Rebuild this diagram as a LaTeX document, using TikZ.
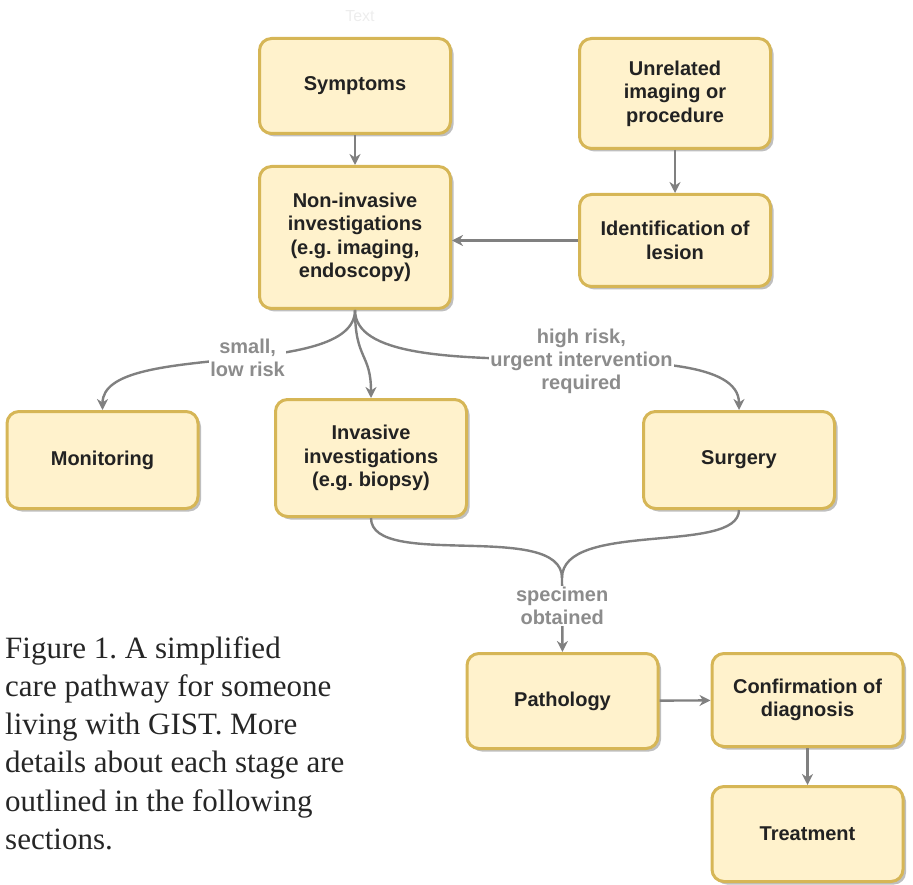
\documentclass[tikz,border=0pt]{standalone}
\usepackage{fontspec}
\setmainfont{Liberation Serif}
\newfontfamily\flowfont{Liberation Sans}
\usetikzlibrary{
  arrows.meta,
  shadows
}
\definecolor{stagefill}{RGB}{255,242,204}
\definecolor{stageline}{RGB}{214,182,86}
\definecolor{linkgray}{RGB}{128,128,128}
\definecolor{labelgray}{RGB}{140,140,140}
\definecolor{stagetext}{RGB}{34,34,34}
\frenchspacing

\tikzset{
  stage/.style={draw=stageline, fill=stagefill, line width=3pt, rounded corners=12pt,
    minimum width=191pt, align=center, text=stagetext,
    font=\flowfont\bfseries\fontsize{20}{23.5}\selectfont,
    drop shadow={shadow xshift=3pt, shadow yshift=-3pt, fill=black, opacity=0.25}},
  link/.style={draw=linkgray, line width=2.4pt, -{Stealth[length=11pt, width=11pt, inset=3.5pt]}},
  pipe/.style={draw=linkgray, line width=2.4pt},
  edgelabel/.style={fill=white, text=labelgray, align=center, inner sep=1pt,
    font=\flowfont\bfseries\fontsize{20}{23}\selectfont}
}

\begin{document}
\begin{tikzpicture}[x=1pt, y=-1pt]
  \useasboundingbox (0,0) rectangle (913,885);

  % Stages
  \node[text=black!7, font=\flowfont\fontsize{16}{16}\selectfont] (ghost) at (360,16) {Text};
  \node[stage, minimum height=95pt] (symp) at (355,86) {Symptoms};
  \node[stage, minimum height=110pt] (unrel) at (675,93.5) {Unrelated\\imaging or\\procedure};
  \node[stage, minimum height=142pt] (noninv) at (355,237.5) {Non-invasive\\investigations\\(e.g. imaging,\\endoscopy)};
  \node[stage, minimum height=92pt] (ident) at (675,240.5) {Identification of\\lesion};
  \node[stage, minimum height=97pt] (monit) at (102.5,460) {Monitoring};
  \node[stage, minimum height=117pt] (invas) at (371,458) {Invasive\\investigations\\(e.g. biopsy)};
  \node[stage, minimum height=97pt] (surg) at (739,460) {Surgery};
  \node[stage, minimum height=95pt] (patho) at (562.5,701) {Pathology};
  \node[stage, minimum height=93pt] (confirm) at (807.5,700) {Confirmation of\\diagnosis};
  \node[stage, minimum height=95pt] (treat) at (807.5,834) {Treatment};

  % Links
  \draw[link] (symp) -- (noninv);
  \draw[link] (unrel) -- (ident);
  \draw[link] (ident.west) -- (noninv.east |- ident.west);
  \draw[link] (noninv.south) .. controls +(0,71) and +(0,-70) .. node[edgelabel, pos=0.45] {small,\\low risk} (monit.north);
  \draw[link] (noninv.south) .. controls +(0,50) and +(0,-45) .. (invas.north);
  \draw[link] (noninv.south) .. controls +(0,91) and +(0,-90) .. node[edgelabel, pos=0.56] {high risk,\\urgent intervention\\required} (surg.north);

  % Specimen merge
  \coordinate (merge) at (562,578);
  \draw[pipe] (invas.south) .. controls +(0,52) and +(0,-58) .. (merge);
  \draw[pipe] (surg.south) .. controls +(0,45) and +(0,-58) .. (merge);
  \draw[link] (merge) -- node[edgelabel, pos=0.38] {specimen\\obtained} (patho.north);
  \draw[link] (patho) -- (confirm);
  \draw[link] (confirm) -- (treat);

  % Caption
  \node[anchor=north west, align=left, inner sep=0pt, text=black!85,
    font=\fontsize{31}{38.3}\selectfont] (caption) at (5,636)
    {Figure 1. A simplified\\care pathway for someone\\living with GIST. More\\details about each stage are\\outlined in the following\\sections.};
\end{tikzpicture}
\end{document}
